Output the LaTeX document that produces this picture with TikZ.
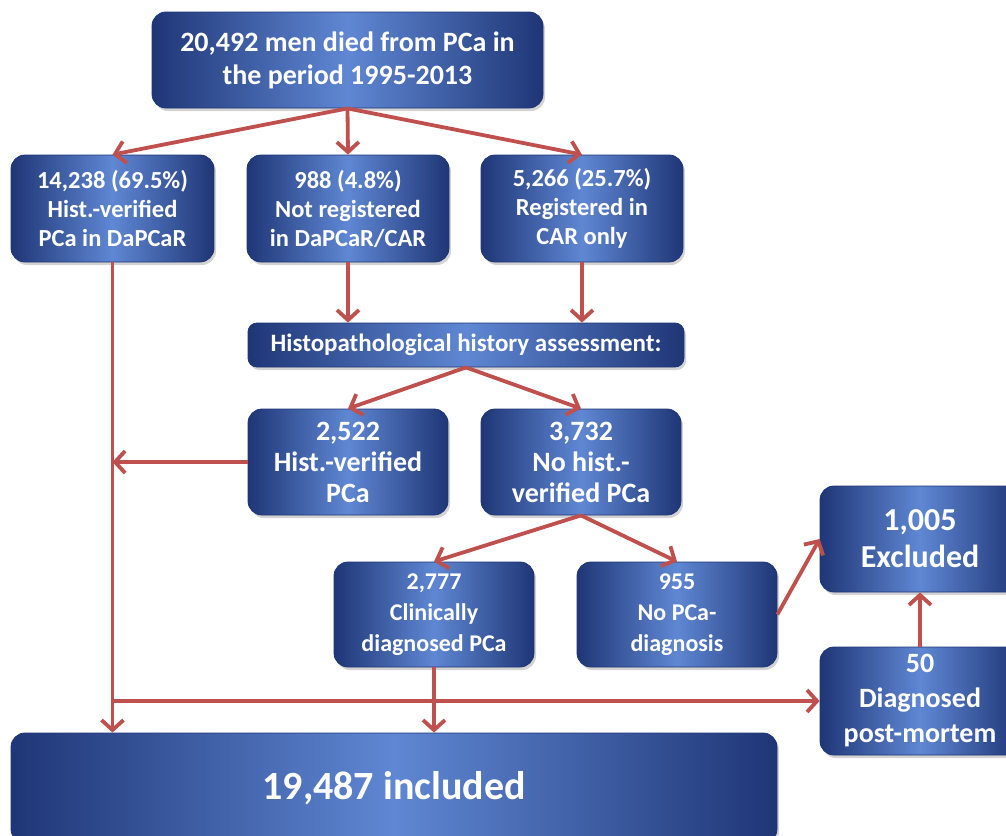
\documentclass[tikz,border=0pt]{standalone}
\usepackage{fontspec}
\setmainfont{Carlito}
\usetikzlibrary{arrows.meta,shadows,calc}
\definecolor{boxdark}{HTML}{1F3676}
\definecolor{boxlight}{HTML}{5F87D3}
\definecolor{arr}{HTML}{C0504D}
\tikzset{
  bx/.style={rounded corners=14pt, draw=boxdark, line width=0.8pt,
    left color=boxdark, right color=boxdark, middle color=boxlight,
    align=center, text=white, inner sep=0pt,
    drop shadow={opacity=0.35, shadow xshift=2pt, shadow yshift=-3pt}},
  con/.style={draw=arr, line width=3.8pt, -{Straight Barb[length=10pt,width=22pt]}}
}
\begin{document}
\begin{tikzpicture}[x=1pt,y=-1pt]
\clip (0,0) rectangle (1006,835);
\useasboundingbox (0,0) rectangle (1006,835);
\node[bx, minimum width=391pt, minimum height=96pt, font=\fontsize{28}{33}\selectfont\bfseries] (top) at (347.5,60) {20,492 men died from PCa in\\the period 1995-2013};
\node[bx, minimum width=203pt, minimum height=107pt, font=\fontsize{24.5}{29}\selectfont\bfseries] (A) at (112.5,208.5) {14,238 (69.5\%)\\Hist.-verified\\PCa in DaPCaR};
\node[bx, minimum width=202pt, minimum height=107pt, font=\fontsize{24.5}{29}\selectfont\bfseries] (B) at (348,208.5) {988 (4.8\%)\\Not registered\\in DaPCaR/CAR};
\node[bx, minimum width=202pt, minimum height=107pt, font=\fontsize{24.5}{29}\selectfont\bfseries] (C) at (582,208.5) {5,266 (25.7\%)\\Registered in\\CAR only};
\node[bx, rounded corners=9pt, minimum width=436pt, minimum height=44pt, font=\fontsize{25}{28}\selectfont\bfseries] (H) at (466,345) {Histopathological history assessment:};
\node[bx, minimum width=200pt, minimum height=106pt, font=\fontsize{28}{31}\selectfont\bfseries] (D) at (348,462) {2,522\\Hist.-verified\\PCa};
\node[bx, minimum width=200pt, minimum height=106pt, font=\fontsize{28}{31}\selectfont\bfseries] (E) at (581,462) {3,732\\No hist.-\\verified PCa};
\node[bx, minimum width=200pt, minimum height=105pt, font=\fontsize{24}{31}\selectfont\bfseries] (F) at (434,614.5) {2,777\\Clinically\\diagnosed PCa};
\node[bx, minimum width=200pt, minimum height=105pt, font=\fontsize{24}{31}\selectfont\bfseries] (G) at (677,614.5) {955\\No PCa-\\diagnosis};
\node[bx, minimum width=200pt, minimum height=106pt, font=\fontsize{32}{37}\selectfont\bfseries] (X) at (920,539) {1,005\\Excluded};
\node[bx, minimum width=200pt, minimum height=108pt, font=\fontsize{28}{35}\selectfont\bfseries] (P) at (920,701) {50\\Diagnosed\\post-mortem};
\node[bx, minimum width=766pt, minimum height=110pt, font=\fontsize{40}{48}\selectfont\bfseries] (I) at (394,788) {19,487 included};

\draw[con] (top.south) -- (A.north);
\draw[con] (top.south) -- (B.north);
\draw[con] (top.south) -- (C.north);
\draw[con] (B.south) -- (B.south |- H.north);
\draw[con] (C.south) -- (C.south |- H.north);
\draw[con] (H.south) -- (D.north);
\draw[con] (H.south) -- (E.north);
\draw[con] (D.west) -- (D.west -| A.south);
\draw[con] (A.south) -- (A.south |- I.north);
\draw[con] (E.south) -- (F.north);
\draw[con] (E.south) -- (G.north);
\draw[con] (G.east) -- (X.west);
\draw[con] (P.north) -- (X.south);
\draw[con] (F.south) -- (F.south |- I.north);
\draw[con] (P.west -| A.south) -- (P.west);
\end{tikzpicture}
\end{document}
